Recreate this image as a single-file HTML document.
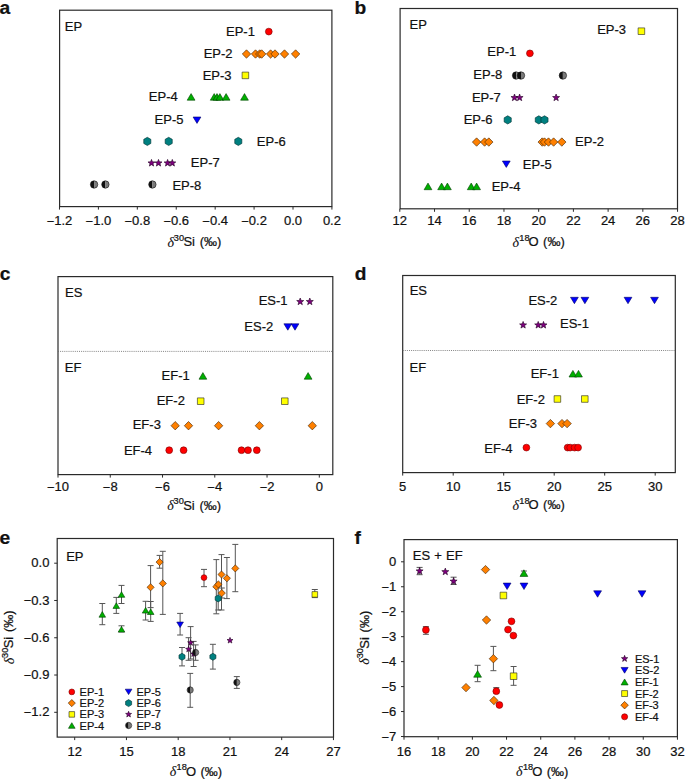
<!DOCTYPE html>
<html><head><meta charset="utf-8"><style>
html,body{margin:0;padding:0;background:#fff;}
svg{display:block;}
text{fill:#111;stroke:#111;stroke-width:0.22px;}
</style></head><body>
<svg width="685" height="779" viewBox="0 0 685 779" font-family='"Liberation Sans", sans-serif'>
<rect width="685" height="779" fill="#fff"/>
<text x="-0.5" y="14" font-size="19.2" text-anchor="start" font-weight="bold" >a</text>
<text x="354.5" y="14" font-size="19.2" text-anchor="start" font-weight="bold" >b</text>
<text x="-0.2" y="280.4" font-size="19.2" text-anchor="start" font-weight="bold" >c</text>
<text x="354.8" y="280.4" font-size="19.2" text-anchor="start" font-weight="bold" >d</text>
<text x="-0.5" y="544.3" font-size="19.2" text-anchor="start" font-weight="bold" >e</text>
<text x="354.5" y="543.7" font-size="19.2" text-anchor="start" font-weight="bold" >f</text>
<rect x="59.6" y="10.2" width="272.3" height="196.4" fill="none" stroke="#2a2a2a" stroke-width="1.2"/>
<line x1="59.48" y1="206.6" x2="59.48" y2="209.6" stroke="#2a2a2a" stroke-width="1.0" />
<text x="59.48" y="224.9" font-size="13" text-anchor="middle" font-weight="normal" ><tspan dy="0.9">−</tspan><tspan dy="-0.9">1.2</tspan></text>
<line x1="98.4" y1="206.6" x2="98.4" y2="209.6" stroke="#2a2a2a" stroke-width="1.0" />
<text x="98.4" y="224.9" font-size="13" text-anchor="middle" font-weight="normal" ><tspan dy="0.9">−</tspan><tspan dy="-0.9">1.0</tspan></text>
<line x1="137.32" y1="206.6" x2="137.32" y2="209.6" stroke="#2a2a2a" stroke-width="1.0" />
<text x="137.32" y="224.9" font-size="13" text-anchor="middle" font-weight="normal" ><tspan dy="0.9">−</tspan><tspan dy="-0.9">0.8</tspan></text>
<line x1="176.24" y1="206.6" x2="176.24" y2="209.6" stroke="#2a2a2a" stroke-width="1.0" />
<text x="176.24" y="224.9" font-size="13" text-anchor="middle" font-weight="normal" ><tspan dy="0.9">−</tspan><tspan dy="-0.9">0.6</tspan></text>
<line x1="215.16" y1="206.6" x2="215.16" y2="209.6" stroke="#2a2a2a" stroke-width="1.0" />
<text x="215.16" y="224.9" font-size="13" text-anchor="middle" font-weight="normal" ><tspan dy="0.9">−</tspan><tspan dy="-0.9">0.4</tspan></text>
<line x1="254.08" y1="206.6" x2="254.08" y2="209.6" stroke="#2a2a2a" stroke-width="1.0" />
<text x="254.08" y="224.9" font-size="13" text-anchor="middle" font-weight="normal" ><tspan dy="0.9">−</tspan><tspan dy="-0.9">0.2</tspan></text>
<line x1="293" y1="206.6" x2="293" y2="209.6" stroke="#2a2a2a" stroke-width="1.0" />
<text x="293" y="224.9" font-size="13" text-anchor="middle" font-weight="normal" >0.0</text>
<line x1="331.92" y1="206.6" x2="331.92" y2="209.6" stroke="#2a2a2a" stroke-width="1.0" />
<text x="331.92" y="224.9" font-size="13" text-anchor="middle" font-weight="normal" >0.2</text>
<g transform="translate(167.4,246.4)"><text x="0" y="0.4" font-size="14" font-family="Liberation Serif" font-style="italic" style="stroke-width:0.1px">δ</text><text x="6.4" y="-5.7" font-size="9.2">30</text><text x="16" y="0" font-size="13">Si</text><text x="32.3" y="0" font-size="13">(‰)</text></g>
<text x="64.8" y="31.4" font-size="13" text-anchor="start" font-weight="normal" >EP</text>
<text x="226" y="36" font-size="13" text-anchor="start" font-weight="normal" >EP-1</text>
<text x="203.7" y="58.3" font-size="13" text-anchor="start" font-weight="normal" >EP-2</text>
<text x="202.7" y="80.4" font-size="13" text-anchor="start" font-weight="normal" >EP-3</text>
<text x="148.8" y="101.2" font-size="13" text-anchor="start" font-weight="normal" >EP-4</text>
<text x="154.6" y="124.1" font-size="13" text-anchor="start" font-weight="normal" >EP-5</text>
<text x="256.8" y="145.9" font-size="13" text-anchor="start" font-weight="normal" >EP-6</text>
<text x="190.8" y="167.4" font-size="13" text-anchor="start" font-weight="normal" >EP-7</text>
<text x="172.4" y="189.5" font-size="13" text-anchor="start" font-weight="normal" >EP-8</text>
<circle cx="268.8" cy="31.6" r="3.4" fill="#ff0000" stroke="#7a0000" stroke-width="0.6"/>
<path d="M246.5 49.8 L250.7 54 L246.5 58.2 L242.3 54 Z" fill="#ff8000" stroke="#3a1e00" stroke-width="0.6" stroke-linejoin="miter"/>
<path d="M255.5 49.8 L259.7 54 L255.5 58.2 L251.3 54 Z" fill="#ff8000" stroke="#3a1e00" stroke-width="0.6" stroke-linejoin="miter"/>
<path d="M259.7 49.8 L263.9 54 L259.7 58.2 L255.5 54 Z" fill="#ff8000" stroke="#3a1e00" stroke-width="0.6" stroke-linejoin="miter"/>
<path d="M261.7 49.8 L265.9 54 L261.7 58.2 L257.5 54 Z" fill="#ff8000" stroke="#3a1e00" stroke-width="0.6" stroke-linejoin="miter"/>
<path d="M270.6 49.8 L274.8 54 L270.6 58.2 L266.4 54 Z" fill="#ff8000" stroke="#3a1e00" stroke-width="0.6" stroke-linejoin="miter"/>
<path d="M275 49.8 L279.2 54 L275 58.2 L270.8 54 Z" fill="#ff8000" stroke="#3a1e00" stroke-width="0.6" stroke-linejoin="miter"/>
<path d="M284.5 49.8 L288.7 54 L284.5 58.2 L280.3 54 Z" fill="#ff8000" stroke="#3a1e00" stroke-width="0.6" stroke-linejoin="miter"/>
<path d="M295.6 49.8 L299.8 54 L295.6 58.2 L291.4 54 Z" fill="#ff8000" stroke="#3a1e00" stroke-width="0.6" stroke-linejoin="miter"/>
<path d="M242.1 72.1 L248.7 72.1 L248.7 78.7 L242.1 78.7 Z" fill="#ffff00" stroke="#222" stroke-width="0.6" stroke-linejoin="miter"/>
<path d="M191.1 93.6 L195 100.2 L187.2 100.2 Z" fill="#00b000" stroke="#004000" stroke-width="0.6" stroke-linejoin="miter"/>
<path d="M214.2 93.6 L218.1 100.2 L210.3 100.2 Z" fill="#00b000" stroke="#004000" stroke-width="0.6" stroke-linejoin="miter"/>
<path d="M217 93.6 L220.9 100.2 L213.1 100.2 Z" fill="#00b000" stroke="#004000" stroke-width="0.6" stroke-linejoin="miter"/>
<path d="M219.9 93.6 L223.8 100.2 L216 100.2 Z" fill="#00b000" stroke="#004000" stroke-width="0.6" stroke-linejoin="miter"/>
<path d="M226.1 93.6 L230 100.2 L222.2 100.2 Z" fill="#00b000" stroke="#004000" stroke-width="0.6" stroke-linejoin="miter"/>
<path d="M244.5 93.6 L248.4 100.2 L240.6 100.2 Z" fill="#00b000" stroke="#004000" stroke-width="0.6" stroke-linejoin="miter"/>
<path d="M193.1 117 L200.9 117 L197 123.4 Z" fill="#0000ff" stroke="#000060" stroke-width="0.6" stroke-linejoin="miter"/>
<path d="M147.3 137.3 L143.75 139.35 L143.75 143.45 L147.3 145.5 L150.85 143.45 L150.85 139.35 Z" fill="#008080" stroke="#003030" stroke-width="0.6" stroke-linejoin="miter"/>
<path d="M168.7 137.3 L165.15 139.35 L165.15 143.45 L168.7 145.5 L172.25 143.45 L172.25 139.35 Z" fill="#008080" stroke="#003030" stroke-width="0.6" stroke-linejoin="miter"/>
<path d="M238.3 137.3 L234.75 139.35 L234.75 143.45 L238.3 145.5 L241.85 143.45 L241.85 139.35 Z" fill="#008080" stroke="#003030" stroke-width="0.6" stroke-linejoin="miter"/>
<path d="M151.5 159.4 L152.41 161.85 L155.02 161.96 L152.97 163.58 L153.67 166.09 L151.5 164.65 L149.33 166.09 L150.03 163.58 L147.98 161.96 L150.59 161.85 Z" fill="#800080" stroke="#200020" stroke-width="0.6" stroke-linejoin="miter"/>
<path d="M158.5 159.4 L159.41 161.85 L162.02 161.96 L159.97 163.58 L160.67 166.09 L158.5 164.65 L156.33 166.09 L157.03 163.58 L154.98 161.96 L157.59 161.85 Z" fill="#800080" stroke="#200020" stroke-width="0.6" stroke-linejoin="miter"/>
<path d="M167.6 159.4 L168.51 161.85 L171.12 161.96 L169.07 163.58 L169.77 166.09 L167.6 164.65 L165.43 166.09 L166.13 163.58 L164.08 161.96 L166.69 161.85 Z" fill="#800080" stroke="#200020" stroke-width="0.6" stroke-linejoin="miter"/>
<path d="M172.3 159.4 L173.21 161.85 L175.82 161.96 L173.77 163.58 L174.47 166.09 L172.3 164.65 L170.13 166.09 L170.83 163.58 L168.78 161.96 L171.39 161.85 Z" fill="#800080" stroke="#200020" stroke-width="0.6" stroke-linejoin="miter"/>
<path d="M94.1 180.8 A3.7 3.7 0 0 0 94.1 188.2 Z" fill="#111"/><path d="M94.1 180.8 A3.7 3.7 0 0 1 94.1 188.2 Z" fill="#7a7a7a"/><circle cx="94.1" cy="184.5" r="3.7" fill="none" stroke="#111" stroke-width="0.6"/>
<path d="M105.4 180.8 A3.7 3.7 0 0 0 105.4 188.2 Z" fill="#111"/><path d="M105.4 180.8 A3.7 3.7 0 0 1 105.4 188.2 Z" fill="#7a7a7a"/><circle cx="105.4" cy="184.5" r="3.7" fill="none" stroke="#111" stroke-width="0.6"/>
<path d="M152.4 180.8 A3.7 3.7 0 0 0 152.4 188.2 Z" fill="#111"/><path d="M152.4 180.8 A3.7 3.7 0 0 1 152.4 188.2 Z" fill="#7a7a7a"/><circle cx="152.4" cy="184.5" r="3.7" fill="none" stroke="#111" stroke-width="0.6"/>
<rect x="400.1" y="8.5" width="277.4" height="200.3" fill="none" stroke="#2a2a2a" stroke-width="1.2"/>
<line x1="399.8" y1="208.8" x2="399.8" y2="211.8" stroke="#2a2a2a" stroke-width="1.0" />
<text x="399.8" y="225" font-size="13" text-anchor="middle" font-weight="normal" >12</text>
<line x1="434.52" y1="208.8" x2="434.52" y2="211.8" stroke="#2a2a2a" stroke-width="1.0" />
<text x="434.52" y="225" font-size="13" text-anchor="middle" font-weight="normal" >14</text>
<line x1="469.24" y1="208.8" x2="469.24" y2="211.8" stroke="#2a2a2a" stroke-width="1.0" />
<text x="469.24" y="225" font-size="13" text-anchor="middle" font-weight="normal" >16</text>
<line x1="503.96" y1="208.8" x2="503.96" y2="211.8" stroke="#2a2a2a" stroke-width="1.0" />
<text x="503.96" y="225" font-size="13" text-anchor="middle" font-weight="normal" >18</text>
<line x1="538.68" y1="208.8" x2="538.68" y2="211.8" stroke="#2a2a2a" stroke-width="1.0" />
<text x="538.68" y="225" font-size="13" text-anchor="middle" font-weight="normal" >20</text>
<line x1="573.4" y1="208.8" x2="573.4" y2="211.8" stroke="#2a2a2a" stroke-width="1.0" />
<text x="573.4" y="225" font-size="13" text-anchor="middle" font-weight="normal" >22</text>
<line x1="608.12" y1="208.8" x2="608.12" y2="211.8" stroke="#2a2a2a" stroke-width="1.0" />
<text x="608.12" y="225" font-size="13" text-anchor="middle" font-weight="normal" >24</text>
<line x1="642.84" y1="208.8" x2="642.84" y2="211.8" stroke="#2a2a2a" stroke-width="1.0" />
<text x="642.84" y="225" font-size="13" text-anchor="middle" font-weight="normal" >26</text>
<line x1="677.56" y1="208.8" x2="677.56" y2="211.8" stroke="#2a2a2a" stroke-width="1.0" />
<text x="677.56" y="225" font-size="13" text-anchor="middle" font-weight="normal" >28</text>
<g transform="translate(512.4,246.3)"><text x="0" y="0.4" font-size="14" font-family="Liberation Serif" font-style="italic" style="stroke-width:0.1px">δ</text><text x="6.9" y="-5.7" font-size="9.2">18</text><text x="16.2" y="0" font-size="13">O</text><text x="30.7" y="0" font-size="13">(‰)</text></g>
<text x="409.5" y="29.1" font-size="13" text-anchor="start" font-weight="normal" >EP</text>
<text x="597.2" y="34.2" font-size="13" text-anchor="start" font-weight="normal" >EP-3</text>
<text x="487.3" y="56.2" font-size="13" text-anchor="start" font-weight="normal" >EP-1</text>
<text x="473.3" y="79.2" font-size="13" text-anchor="start" font-weight="normal" >EP-8</text>
<text x="471.9" y="101.5" font-size="13" text-anchor="start" font-weight="normal" >EP-7</text>
<text x="463.7" y="123.9" font-size="13" text-anchor="start" font-weight="normal" >EP-6</text>
<text x="575.1" y="146.2" font-size="13" text-anchor="start" font-weight="normal" >EP-2</text>
<text x="522.8" y="169.1" font-size="13" text-anchor="start" font-weight="normal" >EP-5</text>
<text x="491.7" y="191" font-size="13" text-anchor="start" font-weight="normal" >EP-4</text>
<path d="M638.1 27.9 L644.7 27.9 L644.7 34.5 L638.1 34.5 Z" fill="#ffff00" stroke="#222" stroke-width="0.6" stroke-linejoin="miter"/>
<circle cx="529.9" cy="53.37" r="3.4" fill="#ff0000" stroke="#7a0000" stroke-width="0.6"/>
<path d="M516.1 71.84 A3.7 3.7 0 0 0 516.1 79.24 Z" fill="#111"/><path d="M516.1 71.84 A3.7 3.7 0 0 1 516.1 79.24 Z" fill="#7a7a7a"/><circle cx="516.1" cy="75.54" r="3.7" fill="none" stroke="#111" stroke-width="0.6"/>
<path d="M521 71.84 A3.7 3.7 0 0 0 521 79.24 Z" fill="#111"/><path d="M521 71.84 A3.7 3.7 0 0 1 521 79.24 Z" fill="#7a7a7a"/><circle cx="521" cy="75.54" r="3.7" fill="none" stroke="#111" stroke-width="0.6"/>
<path d="M562.9 71.84 A3.7 3.7 0 0 0 562.9 79.24 Z" fill="#111"/><path d="M562.9 71.84 A3.7 3.7 0 0 1 562.9 79.24 Z" fill="#7a7a7a"/><circle cx="562.9" cy="75.54" r="3.7" fill="none" stroke="#111" stroke-width="0.6"/>
<path d="M514.5 94.01 L515.41 96.46 L518.02 96.57 L515.97 98.19 L516.67 100.7 L514.5 99.26 L512.33 100.7 L513.03 98.19 L510.98 96.57 L513.59 96.46 Z" fill="#800080" stroke="#200020" stroke-width="0.6" stroke-linejoin="miter"/>
<path d="M519.6 94.01 L520.51 96.46 L523.12 96.57 L521.07 98.19 L521.77 100.7 L519.6 99.26 L517.43 100.7 L518.13 98.19 L516.08 96.57 L518.69 96.46 Z" fill="#800080" stroke="#200020" stroke-width="0.6" stroke-linejoin="miter"/>
<path d="M556.1 94.01 L557.01 96.46 L559.62 96.57 L557.57 98.19 L558.27 100.7 L556.1 99.26 L553.93 100.7 L554.63 98.19 L552.58 96.57 L555.19 96.46 Z" fill="#800080" stroke="#200020" stroke-width="0.6" stroke-linejoin="miter"/>
<path d="M507.7 115.78 L504.15 117.83 L504.15 121.93 L507.7 123.98 L511.25 121.93 L511.25 117.83 Z" fill="#008080" stroke="#003030" stroke-width="0.6" stroke-linejoin="miter"/>
<path d="M538.8 115.78 L535.25 117.83 L535.25 121.93 L538.8 123.98 L542.35 121.93 L542.35 117.83 Z" fill="#008080" stroke="#003030" stroke-width="0.6" stroke-linejoin="miter"/>
<path d="M544.5 115.78 L540.95 117.83 L540.95 121.93 L544.5 123.98 L548.05 121.93 L548.05 117.83 Z" fill="#008080" stroke="#003030" stroke-width="0.6" stroke-linejoin="miter"/>
<path d="M476.6 137.85 L480.8 142.05 L476.6 146.25 L472.4 142.05 Z" fill="#ff8000" stroke="#3a1e00" stroke-width="0.6" stroke-linejoin="miter"/>
<path d="M484.6 137.85 L488.8 142.05 L484.6 146.25 L480.4 142.05 Z" fill="#ff8000" stroke="#3a1e00" stroke-width="0.6" stroke-linejoin="miter"/>
<path d="M488.8 137.85 L493 142.05 L488.8 146.25 L484.6 142.05 Z" fill="#ff8000" stroke="#3a1e00" stroke-width="0.6" stroke-linejoin="miter"/>
<path d="M542.2 137.85 L546.4 142.05 L542.2 146.25 L538 142.05 Z" fill="#ff8000" stroke="#3a1e00" stroke-width="0.6" stroke-linejoin="miter"/>
<path d="M544.5 137.85 L548.7 142.05 L544.5 146.25 L540.3 142.05 Z" fill="#ff8000" stroke="#3a1e00" stroke-width="0.6" stroke-linejoin="miter"/>
<path d="M548.5 137.85 L552.7 142.05 L548.5 146.25 L544.3 142.05 Z" fill="#ff8000" stroke="#3a1e00" stroke-width="0.6" stroke-linejoin="miter"/>
<path d="M553.6 137.85 L557.8 142.05 L553.6 146.25 L549.4 142.05 Z" fill="#ff8000" stroke="#3a1e00" stroke-width="0.6" stroke-linejoin="miter"/>
<path d="M561.8 137.85 L566 142.05 L561.8 146.25 L557.6 142.05 Z" fill="#ff8000" stroke="#3a1e00" stroke-width="0.6" stroke-linejoin="miter"/>
<path d="M502.4 161.02 L510.2 161.02 L506.3 167.42 Z" fill="#0000ff" stroke="#000060" stroke-width="0.6" stroke-linejoin="miter"/>
<path d="M428 183.09 L431.9 189.69 L424.1 189.69 Z" fill="#00b000" stroke="#004000" stroke-width="0.6" stroke-linejoin="miter"/>
<path d="M441.6 183.09 L445.5 189.69 L437.7 189.69 Z" fill="#00b000" stroke="#004000" stroke-width="0.6" stroke-linejoin="miter"/>
<path d="M447.4 183.09 L451.3 189.69 L443.5 189.69 Z" fill="#00b000" stroke="#004000" stroke-width="0.6" stroke-linejoin="miter"/>
<path d="M471.2 183.09 L475.1 189.69 L467.3 189.69 Z" fill="#00b000" stroke="#004000" stroke-width="0.6" stroke-linejoin="miter"/>
<path d="M476.6 183.09 L480.5 189.69 L472.7 189.69 Z" fill="#00b000" stroke="#004000" stroke-width="0.6" stroke-linejoin="miter"/>
<rect x="58" y="276.6" width="274.8" height="198" fill="none" stroke="#2a2a2a" stroke-width="1.2"/>
<line x1="58" y1="351.4" x2="332.8" y2="351.4" stroke="#666" stroke-width="0.8" stroke-dasharray="1 1.1"/>
<line x1="58" y1="474.6" x2="58" y2="477.6" stroke="#2a2a2a" stroke-width="1.0" />
<text x="58" y="490.9" font-size="13" text-anchor="middle" font-weight="normal" ><tspan dy="0.9">−</tspan><tspan dy="-0.9">10</tspan></text>
<line x1="110.26" y1="474.6" x2="110.26" y2="477.6" stroke="#2a2a2a" stroke-width="1.0" />
<text x="110.26" y="490.9" font-size="13" text-anchor="middle" font-weight="normal" ><tspan dy="0.9">−</tspan><tspan dy="-0.9">8</tspan></text>
<line x1="162.52" y1="474.6" x2="162.52" y2="477.6" stroke="#2a2a2a" stroke-width="1.0" />
<text x="162.52" y="490.9" font-size="13" text-anchor="middle" font-weight="normal" ><tspan dy="0.9">−</tspan><tspan dy="-0.9">6</tspan></text>
<line x1="214.78" y1="474.6" x2="214.78" y2="477.6" stroke="#2a2a2a" stroke-width="1.0" />
<text x="214.78" y="490.9" font-size="13" text-anchor="middle" font-weight="normal" ><tspan dy="0.9">−</tspan><tspan dy="-0.9">4</tspan></text>
<line x1="267.04" y1="474.6" x2="267.04" y2="477.6" stroke="#2a2a2a" stroke-width="1.0" />
<text x="267.04" y="490.9" font-size="13" text-anchor="middle" font-weight="normal" ><tspan dy="0.9">−</tspan><tspan dy="-0.9">2</tspan></text>
<line x1="319.3" y1="474.6" x2="319.3" y2="477.6" stroke="#2a2a2a" stroke-width="1.0" />
<text x="319.3" y="490.9" font-size="13" text-anchor="middle" font-weight="normal" >0</text>
<g transform="translate(167.2,509.8)"><text x="0" y="0.4" font-size="14" font-family="Liberation Serif" font-style="italic" style="stroke-width:0.1px">δ</text><text x="6.4" y="-5.7" font-size="9.2">30</text><text x="16" y="0" font-size="13">Si</text><text x="32.3" y="0" font-size="13">(‰)</text></g>
<text x="65" y="297.2" font-size="13" text-anchor="start" font-weight="normal" >ES</text>
<text x="64.8" y="372.3" font-size="13" text-anchor="start" font-weight="normal" >EF</text>
<text x="258.7" y="305.2" font-size="13" text-anchor="start" font-weight="normal" >ES-1</text>
<text x="244.3" y="330.6" font-size="13" text-anchor="start" font-weight="normal" >ES-2</text>
<text x="161.6" y="379.8" font-size="13" text-anchor="start" font-weight="normal" >EF-1</text>
<text x="156.7" y="405.3" font-size="13" text-anchor="start" font-weight="normal" >EF-2</text>
<text x="132.7" y="429.1" font-size="13" text-anchor="start" font-weight="normal" >EF-3</text>
<text x="123.9" y="455" font-size="13" text-anchor="start" font-weight="normal" >EF-4</text>
<path d="M300.2 298 L301.11 300.45 L303.72 300.56 L301.67 302.18 L302.37 304.69 L300.2 303.25 L298.03 304.69 L298.73 302.18 L296.68 300.56 L299.29 300.45 Z" fill="#800080" stroke="#200020" stroke-width="0.6" stroke-linejoin="miter"/>
<path d="M309.8 298 L310.71 300.45 L313.32 300.56 L311.27 302.18 L311.97 304.69 L309.8 303.25 L307.63 304.69 L308.33 302.18 L306.28 300.56 L308.89 300.45 Z" fill="#800080" stroke="#200020" stroke-width="0.6" stroke-linejoin="miter"/>
<path d="M283.9 323.8 L291.7 323.8 L287.8 330.2 Z" fill="#0000ff" stroke="#000060" stroke-width="0.6" stroke-linejoin="miter"/>
<path d="M291.1 323.8 L298.9 323.8 L295 330.2 Z" fill="#0000ff" stroke="#000060" stroke-width="0.6" stroke-linejoin="miter"/>
<path d="M202.9 372.6 L206.8 379.2 L199 379.2 Z" fill="#00b000" stroke="#004000" stroke-width="0.6" stroke-linejoin="miter"/>
<path d="M308.1 372.6 L312 379.2 L304.2 379.2 Z" fill="#00b000" stroke="#004000" stroke-width="0.6" stroke-linejoin="miter"/>
<path d="M197.4 397.9 L204 397.9 L204 404.5 L197.4 404.5 Z" fill="#ffff00" stroke="#222" stroke-width="0.6" stroke-linejoin="miter"/>
<path d="M281.5 397.9 L288.1 397.9 L288.1 404.5 L281.5 404.5 Z" fill="#ffff00" stroke="#222" stroke-width="0.6" stroke-linejoin="miter"/>
<path d="M175.2 421.5 L179.4 425.7 L175.2 429.9 L171 425.7 Z" fill="#ff8000" stroke="#3a1e00" stroke-width="0.6" stroke-linejoin="miter"/>
<path d="M188.5 421.5 L192.7 425.7 L188.5 429.9 L184.3 425.7 Z" fill="#ff8000" stroke="#3a1e00" stroke-width="0.6" stroke-linejoin="miter"/>
<path d="M218.6 421.5 L222.8 425.7 L218.6 429.9 L214.4 425.7 Z" fill="#ff8000" stroke="#3a1e00" stroke-width="0.6" stroke-linejoin="miter"/>
<path d="M259.4 421.5 L263.6 425.7 L259.4 429.9 L255.2 425.7 Z" fill="#ff8000" stroke="#3a1e00" stroke-width="0.6" stroke-linejoin="miter"/>
<path d="M312.3 421.5 L316.5 425.7 L312.3 429.9 L308.1 425.7 Z" fill="#ff8000" stroke="#3a1e00" stroke-width="0.6" stroke-linejoin="miter"/>
<circle cx="169.2" cy="450.2" r="3.4" fill="#ff0000" stroke="#7a0000" stroke-width="0.6"/>
<circle cx="183.6" cy="450.2" r="3.4" fill="#ff0000" stroke="#7a0000" stroke-width="0.6"/>
<circle cx="241.5" cy="450.2" r="3.4" fill="#ff0000" stroke="#7a0000" stroke-width="0.6"/>
<circle cx="248" cy="450.2" r="3.4" fill="#ff0000" stroke="#7a0000" stroke-width="0.6"/>
<circle cx="256.8" cy="450.2" r="3.4" fill="#ff0000" stroke="#7a0000" stroke-width="0.6"/>
<rect x="402.7" y="275.5" width="272.6" height="197.1" fill="none" stroke="#2a2a2a" stroke-width="1.2"/>
<line x1="402.7" y1="350.5" x2="675.3" y2="350.5" stroke="#666" stroke-width="0.8" stroke-dasharray="1 1.1"/>
<line x1="402.7" y1="472.6" x2="402.7" y2="475.6" stroke="#2a2a2a" stroke-width="1.0" />
<text x="402.7" y="490.8" font-size="13" text-anchor="middle" font-weight="normal" >5</text>
<line x1="453.2" y1="472.6" x2="453.2" y2="475.6" stroke="#2a2a2a" stroke-width="1.0" />
<text x="453.2" y="490.8" font-size="13" text-anchor="middle" font-weight="normal" >10</text>
<line x1="503.7" y1="472.6" x2="503.7" y2="475.6" stroke="#2a2a2a" stroke-width="1.0" />
<text x="503.7" y="490.8" font-size="13" text-anchor="middle" font-weight="normal" >15</text>
<line x1="554.2" y1="472.6" x2="554.2" y2="475.6" stroke="#2a2a2a" stroke-width="1.0" />
<text x="554.2" y="490.8" font-size="13" text-anchor="middle" font-weight="normal" >20</text>
<line x1="604.7" y1="472.6" x2="604.7" y2="475.6" stroke="#2a2a2a" stroke-width="1.0" />
<text x="604.7" y="490.8" font-size="13" text-anchor="middle" font-weight="normal" >25</text>
<line x1="655.2" y1="472.6" x2="655.2" y2="475.6" stroke="#2a2a2a" stroke-width="1.0" />
<text x="655.2" y="490.8" font-size="13" text-anchor="middle" font-weight="normal" >30</text>
<g transform="translate(512.4,509.4)"><text x="0" y="0.4" font-size="14" font-family="Liberation Serif" font-style="italic" style="stroke-width:0.1px">δ</text><text x="6.9" y="-5.7" font-size="9.2">18</text><text x="16.2" y="0" font-size="13">O</text><text x="30.7" y="0" font-size="13">(‰)</text></g>
<text x="409.7" y="294.5" font-size="13" text-anchor="start" font-weight="normal" >ES</text>
<text x="409.5" y="371.8" font-size="13" text-anchor="start" font-weight="normal" >EF</text>
<text x="528.4" y="304.6" font-size="13" text-anchor="start" font-weight="normal" >ES-2</text>
<text x="560" y="328.2" font-size="13" text-anchor="start" font-weight="normal" >ES-1</text>
<text x="530.7" y="378" font-size="13" text-anchor="start" font-weight="normal" >EF-1</text>
<text x="516.7" y="403.6" font-size="13" text-anchor="start" font-weight="normal" >EF-2</text>
<text x="508.8" y="428.4" font-size="13" text-anchor="start" font-weight="normal" >EF-3</text>
<text x="484.3" y="453.3" font-size="13" text-anchor="start" font-weight="normal" >EF-4</text>
<path d="M570.5 297.3 L578.3 297.3 L574.4 303.7 Z" fill="#0000ff" stroke="#000060" stroke-width="0.6" stroke-linejoin="miter"/>
<path d="M581 297.3 L588.8 297.3 L584.9 303.7 Z" fill="#0000ff" stroke="#000060" stroke-width="0.6" stroke-linejoin="miter"/>
<path d="M624.1 297.3 L631.9 297.3 L628 303.7 Z" fill="#0000ff" stroke="#000060" stroke-width="0.6" stroke-linejoin="miter"/>
<path d="M650.6 297.3 L658.4 297.3 L654.5 303.7 Z" fill="#0000ff" stroke="#000060" stroke-width="0.6" stroke-linejoin="miter"/>
<path d="M523.1 321.4 L524.01 323.85 L526.62 323.96 L524.57 325.58 L525.27 328.09 L523.1 326.65 L520.93 328.09 L521.63 325.58 L519.58 323.96 L522.19 323.85 Z" fill="#800080" stroke="#200020" stroke-width="0.6" stroke-linejoin="miter"/>
<path d="M538.2 321.4 L539.11 323.85 L541.72 323.96 L539.67 325.58 L540.37 328.09 L538.2 326.65 L536.03 328.09 L536.73 325.58 L534.68 323.96 L537.29 323.85 Z" fill="#800080" stroke="#200020" stroke-width="0.6" stroke-linejoin="miter"/>
<path d="M543.5 321.4 L544.41 323.85 L547.02 323.96 L544.97 325.58 L545.67 328.09 L543.5 326.65 L541.33 328.09 L542.03 325.58 L539.98 323.96 L542.59 323.85 Z" fill="#800080" stroke="#200020" stroke-width="0.6" stroke-linejoin="miter"/>
<path d="M572.9 370.4 L576.8 377 L569 377 Z" fill="#00b000" stroke="#004000" stroke-width="0.6" stroke-linejoin="miter"/>
<path d="M578.5 370.4 L582.4 377 L574.6 377 Z" fill="#00b000" stroke="#004000" stroke-width="0.6" stroke-linejoin="miter"/>
<path d="M554.1 395.7 L560.7 395.7 L560.7 402.3 L554.1 402.3 Z" fill="#ffff00" stroke="#222" stroke-width="0.6" stroke-linejoin="miter"/>
<path d="M581.5 395.7 L588.1 395.7 L588.1 402.3 L581.5 402.3 Z" fill="#ffff00" stroke="#222" stroke-width="0.6" stroke-linejoin="miter"/>
<path d="M550.4 419.4 L554.6 423.6 L550.4 427.8 L546.2 423.6 Z" fill="#ff8000" stroke="#3a1e00" stroke-width="0.6" stroke-linejoin="miter"/>
<path d="M562 419.4 L566.2 423.6 L562 427.8 L557.8 423.6 Z" fill="#ff8000" stroke="#3a1e00" stroke-width="0.6" stroke-linejoin="miter"/>
<path d="M567.1 419.4 L571.3 423.6 L567.1 427.8 L562.9 423.6 Z" fill="#ff8000" stroke="#3a1e00" stroke-width="0.6" stroke-linejoin="miter"/>
<circle cx="526.4" cy="447.6" r="3.4" fill="#ff0000" stroke="#7a0000" stroke-width="0.6"/>
<circle cx="567.6" cy="447.6" r="3.4" fill="#ff0000" stroke="#7a0000" stroke-width="0.6"/>
<circle cx="570.2" cy="447.6" r="3.4" fill="#ff0000" stroke="#7a0000" stroke-width="0.6"/>
<circle cx="574.6" cy="447.6" r="3.4" fill="#ff0000" stroke="#7a0000" stroke-width="0.6"/>
<circle cx="578.1" cy="447.6" r="3.4" fill="#ff0000" stroke="#7a0000" stroke-width="0.6"/>
<rect x="57.2" y="538.5" width="276.3" height="198.6" fill="none" stroke="#2a2a2a" stroke-width="1.2"/>
<line x1="74.7" y1="737.1" x2="74.7" y2="740.1" stroke="#2a2a2a" stroke-width="1.0" />
<text x="74.7" y="756.3" font-size="13" text-anchor="middle" font-weight="normal" >12</text>
<line x1="126.45" y1="737.1" x2="126.45" y2="740.1" stroke="#2a2a2a" stroke-width="1.0" />
<text x="126.45" y="756.3" font-size="13" text-anchor="middle" font-weight="normal" >15</text>
<line x1="178.2" y1="737.1" x2="178.2" y2="740.1" stroke="#2a2a2a" stroke-width="1.0" />
<text x="178.2" y="756.3" font-size="13" text-anchor="middle" font-weight="normal" >18</text>
<line x1="229.95" y1="737.1" x2="229.95" y2="740.1" stroke="#2a2a2a" stroke-width="1.0" />
<text x="229.95" y="756.3" font-size="13" text-anchor="middle" font-weight="normal" >21</text>
<line x1="281.7" y1="737.1" x2="281.7" y2="740.1" stroke="#2a2a2a" stroke-width="1.0" />
<text x="281.7" y="756.3" font-size="13" text-anchor="middle" font-weight="normal" >24</text>
<line x1="333.45" y1="737.1" x2="333.45" y2="740.1" stroke="#2a2a2a" stroke-width="1.0" />
<text x="333.45" y="756.3" font-size="13" text-anchor="middle" font-weight="normal" >27</text>
<line x1="54.2" y1="563.2" x2="57.2" y2="563.2" stroke="#2a2a2a" stroke-width="1.0" />
<text x="49.4" y="567.3" font-size="13" text-anchor="end" font-weight="normal" >0.0</text>
<line x1="54.2" y1="600.48" x2="57.2" y2="600.48" stroke="#2a2a2a" stroke-width="1.0" />
<text x="49.4" y="604.58" font-size="13" text-anchor="end" font-weight="normal" ><tspan dy="0.9">−</tspan><tspan dy="-0.9">0.3</tspan></text>
<line x1="54.2" y1="637.75" x2="57.2" y2="637.75" stroke="#2a2a2a" stroke-width="1.0" />
<text x="49.4" y="641.85" font-size="13" text-anchor="end" font-weight="normal" ><tspan dy="0.9">−</tspan><tspan dy="-0.9">0.6</tspan></text>
<line x1="54.2" y1="675.03" x2="57.2" y2="675.03" stroke="#2a2a2a" stroke-width="1.0" />
<text x="49.4" y="679.13" font-size="13" text-anchor="end" font-weight="normal" ><tspan dy="0.9">−</tspan><tspan dy="-0.9">0.9</tspan></text>
<line x1="54.2" y1="712.3" x2="57.2" y2="712.3" stroke="#2a2a2a" stroke-width="1.0" />
<text x="49.4" y="716.4" font-size="13" text-anchor="end" font-weight="normal" ><tspan dy="0.9">−</tspan><tspan dy="-0.9">1.2</tspan></text>
<g transform="translate(169.7,775.8)"><text x="0" y="0.4" font-size="14" font-family="Liberation Serif" font-style="italic" style="stroke-width:0.1px">δ</text><text x="6.9" y="-5.7" font-size="9.2">18</text><text x="16.2" y="0" font-size="13">O</text><text x="30.7" y="0" font-size="13">(‰)</text></g>
<g transform="translate(13.3,664.3) rotate(-90)"><text x="0" y="0.4" font-size="14" font-family="Liberation Serif" font-style="italic" style="stroke-width:0.1px">δ</text><text x="6.4" y="-5.7" font-size="9.2">30</text><text x="16" y="0" font-size="13">Si</text><text x="32.3" y="0" font-size="13">(‰)</text></g>
<text x="66.2" y="561" font-size="13" text-anchor="start" font-weight="normal" >EP</text>
<line x1="102.3" y1="603.5" x2="102.3" y2="624.7" stroke="#555" stroke-width="1.0" /><line x1="99.3" y1="603.5" x2="105.3" y2="603.5" stroke="#555" stroke-width="1.0" /><line x1="99.3" y1="624.7" x2="105.3" y2="624.7" stroke="#555" stroke-width="1.0" />
<line x1="116.3" y1="597.4" x2="116.3" y2="613.4" stroke="#555" stroke-width="1.0" /><line x1="113.3" y1="597.4" x2="119.3" y2="597.4" stroke="#555" stroke-width="1.0" /><line x1="113.3" y1="613.4" x2="119.3" y2="613.4" stroke="#555" stroke-width="1.0" />
<line x1="121.5" y1="585.4" x2="121.5" y2="603.5" stroke="#555" stroke-width="1.0" /><line x1="118.5" y1="585.4" x2="124.5" y2="585.4" stroke="#555" stroke-width="1.0" /><line x1="118.5" y1="603.5" x2="124.5" y2="603.5" stroke="#555" stroke-width="1.0" />
<line x1="121.5" y1="625.8" x2="121.5" y2="631.9" stroke="#555" stroke-width="1.0" /><line x1="118.5" y1="625.8" x2="124.5" y2="625.8" stroke="#555" stroke-width="1.0" /><line x1="118.5" y1="631.9" x2="124.5" y2="631.9" stroke="#555" stroke-width="1.0" />
<line x1="145.6" y1="601.3" x2="145.6" y2="620" stroke="#555" stroke-width="1.0" /><line x1="142.6" y1="601.3" x2="148.6" y2="601.3" stroke="#555" stroke-width="1.0" /><line x1="142.6" y1="620" x2="148.6" y2="620" stroke="#555" stroke-width="1.0" />
<line x1="150.7" y1="601.5" x2="150.7" y2="621.4" stroke="#555" stroke-width="1.0" /><line x1="147.7" y1="601.5" x2="153.7" y2="601.5" stroke="#555" stroke-width="1.0" /><line x1="147.7" y1="621.4" x2="153.7" y2="621.4" stroke="#555" stroke-width="1.0" />
<line x1="150.6" y1="565.6" x2="150.6" y2="607.6" stroke="#555" stroke-width="1.0" /><line x1="147.6" y1="565.6" x2="153.6" y2="565.6" stroke="#555" stroke-width="1.0" /><line x1="147.6" y1="607.6" x2="153.6" y2="607.6" stroke="#555" stroke-width="1.0" />
<line x1="159.6" y1="555.4" x2="159.6" y2="568.2" stroke="#555" stroke-width="1.0" /><line x1="156.6" y1="555.4" x2="162.6" y2="555.4" stroke="#555" stroke-width="1.0" /><line x1="156.6" y1="568.2" x2="162.6" y2="568.2" stroke="#555" stroke-width="1.0" />
<line x1="162.8" y1="551.3" x2="162.8" y2="614.4" stroke="#555" stroke-width="1.0" /><line x1="159.8" y1="551.3" x2="165.8" y2="551.3" stroke="#555" stroke-width="1.0" /><line x1="159.8" y1="614.4" x2="165.8" y2="614.4" stroke="#555" stroke-width="1.0" />
<line x1="218.2" y1="586" x2="218.2" y2="610" stroke="#555" stroke-width="1.0" /><line x1="215.2" y1="586" x2="221.2" y2="586" stroke="#555" stroke-width="1.0" /><line x1="215.2" y1="610" x2="221.2" y2="610" stroke="#555" stroke-width="1.0" />
<line x1="216.3" y1="559.6" x2="216.3" y2="613.8" stroke="#555" stroke-width="1.0" /><line x1="213.3" y1="559.6" x2="219.3" y2="559.6" stroke="#555" stroke-width="1.0" /><line x1="213.3" y1="613.8" x2="219.3" y2="613.8" stroke="#555" stroke-width="1.0" />
<line x1="221.8" y1="588" x2="221.8" y2="598" stroke="#555" stroke-width="1.0" /><line x1="218.8" y1="588" x2="224.8" y2="588" stroke="#555" stroke-width="1.0" /><line x1="218.8" y1="598" x2="224.8" y2="598" stroke="#555" stroke-width="1.0" />
<line x1="221.5" y1="554.6" x2="221.5" y2="610" stroke="#555" stroke-width="1.0" /><line x1="218.5" y1="554.6" x2="224.5" y2="554.6" stroke="#555" stroke-width="1.0" /><line x1="218.5" y1="610" x2="224.5" y2="610" stroke="#555" stroke-width="1.0" />
<line x1="226.9" y1="557.5" x2="226.9" y2="598.6" stroke="#555" stroke-width="1.0" /><line x1="223.9" y1="557.5" x2="229.9" y2="557.5" stroke="#555" stroke-width="1.0" /><line x1="223.9" y1="598.6" x2="229.9" y2="598.6" stroke="#555" stroke-width="1.0" />
<line x1="235.3" y1="544.4" x2="235.3" y2="591.7" stroke="#555" stroke-width="1.0" /><line x1="232.3" y1="544.4" x2="238.3" y2="544.4" stroke="#555" stroke-width="1.0" /><line x1="232.3" y1="591.7" x2="238.3" y2="591.7" stroke="#555" stroke-width="1.0" />
<line x1="204" y1="569.4" x2="204" y2="586.7" stroke="#555" stroke-width="1.0" /><line x1="201" y1="569.4" x2="207" y2="569.4" stroke="#555" stroke-width="1.0" /><line x1="201" y1="586.7" x2="207" y2="586.7" stroke="#555" stroke-width="1.0" />
<line x1="180.1" y1="613.4" x2="180.1" y2="635" stroke="#555" stroke-width="1.0" /><line x1="177.1" y1="613.4" x2="183.1" y2="613.4" stroke="#555" stroke-width="1.0" /><line x1="177.1" y1="635" x2="183.1" y2="635" stroke="#555" stroke-width="1.0" />
<line x1="182" y1="647.5" x2="182" y2="665.9" stroke="#555" stroke-width="1.0" /><line x1="179" y1="647.5" x2="185" y2="647.5" stroke="#555" stroke-width="1.0" /><line x1="179" y1="665.9" x2="185" y2="665.9" stroke="#555" stroke-width="1.0" />
<line x1="212.9" y1="644.3" x2="212.9" y2="669.1" stroke="#555" stroke-width="1.0" /><line x1="209.9" y1="644.3" x2="215.9" y2="644.3" stroke="#555" stroke-width="1.0" /><line x1="209.9" y1="669.1" x2="215.9" y2="669.1" stroke="#555" stroke-width="1.0" />
<line x1="190.6" y1="626.6" x2="190.6" y2="659" stroke="#555" stroke-width="1.0" /><line x1="187.6" y1="626.6" x2="193.6" y2="626.6" stroke="#555" stroke-width="1.0" /><line x1="187.6" y1="659" x2="193.6" y2="659" stroke="#555" stroke-width="1.0" />
<line x1="188.6" y1="637.7" x2="188.6" y2="660.3" stroke="#555" stroke-width="1.0" /><line x1="185.6" y1="637.7" x2="191.6" y2="637.7" stroke="#555" stroke-width="1.0" /><line x1="185.6" y1="660.3" x2="191.6" y2="660.3" stroke="#555" stroke-width="1.0" />
<line x1="193.6" y1="641.4" x2="193.6" y2="666.5" stroke="#555" stroke-width="1.0" /><line x1="190.6" y1="641.4" x2="196.6" y2="641.4" stroke="#555" stroke-width="1.0" /><line x1="190.6" y1="666.5" x2="196.6" y2="666.5" stroke="#555" stroke-width="1.0" />
<line x1="195.6" y1="644.9" x2="195.6" y2="660.3" stroke="#555" stroke-width="1.0" /><line x1="192.6" y1="644.9" x2="198.6" y2="644.9" stroke="#555" stroke-width="1.0" /><line x1="192.6" y1="660.3" x2="198.6" y2="660.3" stroke="#555" stroke-width="1.0" />
<line x1="190.2" y1="673.4" x2="190.2" y2="707.3" stroke="#555" stroke-width="1.0" /><line x1="187.2" y1="673.4" x2="193.2" y2="673.4" stroke="#555" stroke-width="1.0" /><line x1="187.2" y1="707.3" x2="193.2" y2="707.3" stroke="#555" stroke-width="1.0" />
<line x1="236.8" y1="676.6" x2="236.8" y2="688.4" stroke="#555" stroke-width="1.0" /><line x1="233.8" y1="676.6" x2="239.8" y2="676.6" stroke="#555" stroke-width="1.0" /><line x1="233.8" y1="688.4" x2="239.8" y2="688.4" stroke="#555" stroke-width="1.0" />
<line x1="314.8" y1="589.5" x2="314.8" y2="597.6" stroke="#555" stroke-width="1.0" /><line x1="311.8" y1="589.5" x2="317.8" y2="589.5" stroke="#555" stroke-width="1.0" /><line x1="311.8" y1="597.6" x2="317.8" y2="597.6" stroke="#555" stroke-width="1.0" />
<path d="M102.3 611.6 L105.61 617.2 L98.98 617.2 Z" fill="#00b000" stroke="#004000" stroke-width="0.6" stroke-linejoin="miter"/>
<path d="M116.3 602.8 L119.61 608.4 L112.98 608.4 Z" fill="#00b000" stroke="#004000" stroke-width="0.6" stroke-linejoin="miter"/>
<path d="M121.5 591.7 L124.81 597.3 L118.19 597.3 Z" fill="#00b000" stroke="#004000" stroke-width="0.6" stroke-linejoin="miter"/>
<path d="M121.5 626.5 L124.81 632.1 L118.19 632.1 Z" fill="#00b000" stroke="#004000" stroke-width="0.6" stroke-linejoin="miter"/>
<path d="M145.6 607.5 L148.91 613.1 L142.28 613.1 Z" fill="#00b000" stroke="#004000" stroke-width="0.6" stroke-linejoin="miter"/>
<path d="M150.7 608.9 L154.01 614.5 L147.38 614.5 Z" fill="#00b000" stroke="#004000" stroke-width="0.6" stroke-linejoin="miter"/>
<path d="M150.6 583.73 L154.17 587.3 L150.6 590.87 L147.03 587.3 Z" fill="#ff8000" stroke="#3a1e00" stroke-width="0.6" stroke-linejoin="miter"/>
<path d="M159.6 558.53 L163.17 562.1 L159.6 565.67 L156.03 562.1 Z" fill="#ff8000" stroke="#3a1e00" stroke-width="0.6" stroke-linejoin="miter"/>
<path d="M162.8 579.83 L166.37 583.4 L162.8 586.97 L159.23 583.4 Z" fill="#ff8000" stroke="#3a1e00" stroke-width="0.6" stroke-linejoin="miter"/>
<path d="M218.2 594.91 L215.18 596.66 L215.18 600.14 L218.2 601.88 L221.22 600.14 L221.22 596.66 Z" fill="#008080" stroke="#003030" stroke-width="0.6" stroke-linejoin="miter"/>
<path d="M216.3 583.13 L219.87 586.7 L216.3 590.27 L212.73 586.7 Z" fill="#ff8000" stroke="#3a1e00" stroke-width="0.6" stroke-linejoin="miter"/>
<path d="M218.4 580.83 L221.97 584.4 L218.4 587.97 L214.83 584.4 Z" fill="#ff8000" stroke="#3a1e00" stroke-width="0.6" stroke-linejoin="miter"/>
<path d="M221.8 589.53 L225.37 593.1 L221.8 596.67 L218.23 593.1 Z" fill="#ff8000" stroke="#3a1e00" stroke-width="0.6" stroke-linejoin="miter"/>
<path d="M221.5 570.93 L225.07 574.5 L221.5 578.07 L217.93 574.5 Z" fill="#ff8000" stroke="#3a1e00" stroke-width="0.6" stroke-linejoin="miter"/>
<path d="M226.9 574.73 L230.47 578.3 L226.9 581.87 L223.33 578.3 Z" fill="#ff8000" stroke="#3a1e00" stroke-width="0.6" stroke-linejoin="miter"/>
<path d="M235.3 564.83 L238.87 568.4 L235.3 571.97 L231.73 568.4 Z" fill="#ff8000" stroke="#3a1e00" stroke-width="0.6" stroke-linejoin="miter"/>
<circle cx="204" cy="577.6" r="2.89" fill="#ff0000" stroke="#7a0000" stroke-width="0.6"/>
<path d="M176.78 622.08 L183.41 622.08 L180.1 627.52 Z" fill="#0000ff" stroke="#000060" stroke-width="0.6" stroke-linejoin="miter"/>
<path d="M182 653.31 L178.98 655.06 L178.98 658.54 L182 660.28 L185.02 658.54 L185.02 655.06 Z" fill="#008080" stroke="#003030" stroke-width="0.6" stroke-linejoin="miter"/>
<path d="M212.9 653.31 L209.88 655.06 L209.88 658.54 L212.9 660.28 L215.92 658.54 L215.92 655.06 Z" fill="#008080" stroke="#003030" stroke-width="0.6" stroke-linejoin="miter"/>
<path d="M190.6 639.65 L191.37 641.73 L193.59 641.83 L191.85 643.21 L192.45 645.34 L190.6 644.12 L188.75 645.34 L189.35 643.21 L187.61 641.83 L189.83 641.73 Z" fill="#800080" stroke="#200020" stroke-width="0.6" stroke-linejoin="miter"/>
<path d="M188.6 646.15 L189.37 648.23 L191.59 648.33 L189.85 649.71 L190.45 651.84 L188.6 650.62 L186.75 651.84 L187.35 649.71 L185.61 648.33 L187.83 648.23 Z" fill="#800080" stroke="#200020" stroke-width="0.6" stroke-linejoin="miter"/>
<path d="M193.6 650.86 L194.37 652.93 L196.59 653.03 L194.85 654.41 L195.45 656.54 L193.6 655.32 L191.75 656.54 L192.35 654.41 L190.61 653.03 L192.83 652.93 Z" fill="#800080" stroke="#200020" stroke-width="0.6" stroke-linejoin="miter"/>
<path d="M195.6 649.36 A3.15 3.15 0 0 0 195.6 655.64 Z" fill="#111"/><path d="M195.6 649.36 A3.15 3.15 0 0 1 195.6 655.64 Z" fill="#7a7a7a"/><circle cx="195.6" cy="652.5" r="3.15" fill="none" stroke="#111" stroke-width="0.6"/>
<path d="M230 637.36 L230.77 639.43 L232.99 639.53 L231.25 640.91 L231.85 643.04 L230 641.82 L228.15 643.04 L228.75 640.91 L227.01 639.53 L229.23 639.43 Z" fill="#800080" stroke="#200020" stroke-width="0.6" stroke-linejoin="miter"/>
<path d="M190.2 686.86 A3.15 3.15 0 0 0 190.2 693.14 Z" fill="#111"/><path d="M190.2 686.86 A3.15 3.15 0 0 1 190.2 693.14 Z" fill="#7a7a7a"/><circle cx="190.2" cy="690" r="3.15" fill="none" stroke="#111" stroke-width="0.6"/>
<path d="M236.8 679.25 A3.15 3.15 0 0 0 236.8 685.54 Z" fill="#111"/><path d="M236.8 679.25 A3.15 3.15 0 0 1 236.8 685.54 Z" fill="#7a7a7a"/><circle cx="236.8" cy="682.4" r="3.15" fill="none" stroke="#111" stroke-width="0.6"/>
<path d="M312 591.6 L317.61 591.6 L317.61 597.2 L312 597.2 Z" fill="#ffff00" stroke="#222" stroke-width="0.6" stroke-linejoin="miter"/>
<circle cx="71.8" cy="691.9" r="2.89" fill="#ff0000" stroke="#7a0000" stroke-width="0.6"/>
<text x="79.6" y="695.9" font-size="11" text-anchor="start" font-weight="normal" >EP-1</text>
<path d="M71.8 699.53 L75.37 703.1 L71.8 706.67 L68.23 703.1 Z" fill="#ff8000" stroke="#3a1e00" stroke-width="0.6" stroke-linejoin="miter"/>
<text x="79.6" y="707.1" font-size="11" text-anchor="start" font-weight="normal" >EP-2</text>
<path d="M69 711.6 L74.6 711.6 L74.6 717.2 L69 717.2 Z" fill="#ffff00" stroke="#222" stroke-width="0.6" stroke-linejoin="miter"/>
<text x="79.6" y="718.4" font-size="11" text-anchor="start" font-weight="normal" >EP-3</text>
<path d="M71.8 722.7 L75.11 728.3 L68.48 728.3 Z" fill="#00b000" stroke="#004000" stroke-width="0.6" stroke-linejoin="miter"/>
<text x="79.6" y="729.5" font-size="11" text-anchor="start" font-weight="normal" >EP-4</text>
<path d="M125.28 689.18 L131.91 689.18 L128.6 694.62 Z" fill="#0000ff" stroke="#000060" stroke-width="0.6" stroke-linejoin="miter"/>
<text x="136.5" y="695.9" font-size="11" text-anchor="start" font-weight="normal" >EP-5</text>
<path d="M128.6 699.62 L125.58 701.36 L125.58 704.84 L128.6 706.59 L131.62 704.84 L131.62 701.36 Z" fill="#008080" stroke="#003030" stroke-width="0.6" stroke-linejoin="miter"/>
<text x="136.5" y="707.1" font-size="11" text-anchor="start" font-weight="normal" >EP-6</text>
<path d="M128.6 711.25 L129.37 713.33 L131.59 713.43 L129.85 714.81 L130.45 716.94 L128.6 715.72 L126.75 716.94 L127.35 714.81 L125.61 713.43 L127.83 713.33 Z" fill="#800080" stroke="#200020" stroke-width="0.6" stroke-linejoin="miter"/>
<text x="136.5" y="718.4" font-size="11" text-anchor="start" font-weight="normal" >EP-7</text>
<path d="M128.6 722.36 A3.15 3.15 0 0 0 128.6 728.64 Z" fill="#111"/><path d="M128.6 722.36 A3.15 3.15 0 0 1 128.6 728.64 Z" fill="#7a7a7a"/><circle cx="128.6" cy="725.5" r="3.15" fill="none" stroke="#111" stroke-width="0.6"/>
<text x="136.5" y="729.5" font-size="11" text-anchor="start" font-weight="normal" >EP-8</text>
<rect x="404" y="539.6" width="273.4" height="197.1" fill="none" stroke="#2a2a2a" stroke-width="1.2"/>
<line x1="404" y1="736.7" x2="404" y2="739.7" stroke="#2a2a2a" stroke-width="1.0" />
<text x="404" y="756.2" font-size="13" text-anchor="middle" font-weight="normal" >16</text>
<line x1="438.18" y1="736.7" x2="438.18" y2="739.7" stroke="#2a2a2a" stroke-width="1.0" />
<text x="438.18" y="756.2" font-size="13" text-anchor="middle" font-weight="normal" >18</text>
<line x1="472.36" y1="736.7" x2="472.36" y2="739.7" stroke="#2a2a2a" stroke-width="1.0" />
<text x="472.36" y="756.2" font-size="13" text-anchor="middle" font-weight="normal" >20</text>
<line x1="506.54" y1="736.7" x2="506.54" y2="739.7" stroke="#2a2a2a" stroke-width="1.0" />
<text x="506.54" y="756.2" font-size="13" text-anchor="middle" font-weight="normal" >22</text>
<line x1="540.72" y1="736.7" x2="540.72" y2="739.7" stroke="#2a2a2a" stroke-width="1.0" />
<text x="540.72" y="756.2" font-size="13" text-anchor="middle" font-weight="normal" >24</text>
<line x1="574.9" y1="736.7" x2="574.9" y2="739.7" stroke="#2a2a2a" stroke-width="1.0" />
<text x="574.9" y="756.2" font-size="13" text-anchor="middle" font-weight="normal" >26</text>
<line x1="609.08" y1="736.7" x2="609.08" y2="739.7" stroke="#2a2a2a" stroke-width="1.0" />
<text x="609.08" y="756.2" font-size="13" text-anchor="middle" font-weight="normal" >28</text>
<line x1="643.26" y1="736.7" x2="643.26" y2="739.7" stroke="#2a2a2a" stroke-width="1.0" />
<text x="643.26" y="756.2" font-size="13" text-anchor="middle" font-weight="normal" >30</text>
<line x1="677.44" y1="736.7" x2="677.44" y2="739.7" stroke="#2a2a2a" stroke-width="1.0" />
<text x="677.44" y="756.2" font-size="13" text-anchor="middle" font-weight="normal" >32</text>
<line x1="401" y1="561.8" x2="404" y2="561.8" stroke="#2a2a2a" stroke-width="1.0" />
<text x="396.3" y="566.1" font-size="13" text-anchor="end" font-weight="normal" >0</text>
<line x1="401" y1="586.76" x2="404" y2="586.76" stroke="#2a2a2a" stroke-width="1.0" />
<text x="396.3" y="591.06" font-size="13" text-anchor="end" font-weight="normal" ><tspan dy="0.9">−</tspan><tspan dy="-0.9">1</tspan></text>
<line x1="401" y1="611.72" x2="404" y2="611.72" stroke="#2a2a2a" stroke-width="1.0" />
<text x="396.3" y="616.02" font-size="13" text-anchor="end" font-weight="normal" ><tspan dy="0.9">−</tspan><tspan dy="-0.9">2</tspan></text>
<line x1="401" y1="636.68" x2="404" y2="636.68" stroke="#2a2a2a" stroke-width="1.0" />
<text x="396.3" y="640.98" font-size="13" text-anchor="end" font-weight="normal" ><tspan dy="0.9">−</tspan><tspan dy="-0.9">3</tspan></text>
<line x1="401" y1="661.64" x2="404" y2="661.64" stroke="#2a2a2a" stroke-width="1.0" />
<text x="396.3" y="665.94" font-size="13" text-anchor="end" font-weight="normal" ><tspan dy="0.9">−</tspan><tspan dy="-0.9">4</tspan></text>
<line x1="401" y1="686.6" x2="404" y2="686.6" stroke="#2a2a2a" stroke-width="1.0" />
<text x="396.3" y="690.9" font-size="13" text-anchor="end" font-weight="normal" ><tspan dy="0.9">−</tspan><tspan dy="-0.9">5</tspan></text>
<line x1="401" y1="711.56" x2="404" y2="711.56" stroke="#2a2a2a" stroke-width="1.0" />
<text x="396.3" y="715.86" font-size="13" text-anchor="end" font-weight="normal" ><tspan dy="0.9">−</tspan><tspan dy="-0.9">6</tspan></text>
<line x1="401" y1="736.52" x2="404" y2="736.52" stroke="#2a2a2a" stroke-width="1.0" />
<text x="396.3" y="740.82" font-size="13" text-anchor="end" font-weight="normal" ><tspan dy="0.9">−</tspan><tspan dy="-0.9">7</tspan></text>
<g transform="translate(516,775.8)"><text x="0" y="0.4" font-size="14" font-family="Liberation Serif" font-style="italic" style="stroke-width:0.1px">δ</text><text x="6.9" y="-5.7" font-size="9.2">18</text><text x="16.2" y="0" font-size="13">O</text><text x="30.7" y="0" font-size="13">(‰)</text></g>
<g transform="translate(368.9,664.7) rotate(-90)"><text x="0" y="0.4" font-size="14" font-family="Liberation Serif" font-style="italic" style="stroke-width:0.1px">δ</text><text x="6.4" y="-5.7" font-size="9.2">30</text><text x="16" y="0" font-size="13">Si</text><text x="32.3" y="0" font-size="13">(‰)</text></g>
<text x="412.8" y="560.1" font-size="13" text-anchor="start" font-weight="normal" word-spacing="0.5">ES + EF</text>
<line x1="419.6" y1="567.4" x2="419.6" y2="574.7" stroke="#555" stroke-width="1.0" /><line x1="416.6" y1="567.4" x2="422.6" y2="567.4" stroke="#555" stroke-width="1.0" /><line x1="416.6" y1="574.7" x2="422.6" y2="574.7" stroke="#555" stroke-width="1.0" />
<line x1="453.6" y1="577.2" x2="453.6" y2="584.5" stroke="#555" stroke-width="1.0" /><line x1="450.6" y1="577.2" x2="456.6" y2="577.2" stroke="#555" stroke-width="1.0" /><line x1="450.6" y1="584.5" x2="456.6" y2="584.5" stroke="#555" stroke-width="1.0" />
<line x1="523.9" y1="571" x2="523.9" y2="575" stroke="#555" stroke-width="1.0" /><line x1="520.9" y1="571" x2="526.9" y2="571" stroke="#555" stroke-width="1.0" /><line x1="520.9" y1="575" x2="526.9" y2="575" stroke="#555" stroke-width="1.0" />
<line x1="477.6" y1="665.3" x2="477.6" y2="681.7" stroke="#555" stroke-width="1.0" /><line x1="474.6" y1="665.3" x2="480.6" y2="665.3" stroke="#555" stroke-width="1.0" /><line x1="474.6" y1="681.7" x2="480.6" y2="681.7" stroke="#555" stroke-width="1.0" />
<line x1="513.6" y1="666.5" x2="513.6" y2="685.3" stroke="#555" stroke-width="1.0" /><line x1="510.6" y1="666.5" x2="516.6" y2="666.5" stroke="#555" stroke-width="1.0" /><line x1="510.6" y1="685.3" x2="516.6" y2="685.3" stroke="#555" stroke-width="1.0" />
<line x1="493.4" y1="646.4" x2="493.4" y2="670.7" stroke="#555" stroke-width="1.0" /><line x1="490.4" y1="646.4" x2="496.4" y2="646.4" stroke="#555" stroke-width="1.0" /><line x1="490.4" y1="670.7" x2="496.4" y2="670.7" stroke="#555" stroke-width="1.0" />
<line x1="425.9" y1="626.6" x2="425.9" y2="634.3" stroke="#555" stroke-width="1.0" /><line x1="422.9" y1="626.6" x2="428.9" y2="626.6" stroke="#555" stroke-width="1.0" /><line x1="422.9" y1="634.3" x2="428.9" y2="634.3" stroke="#555" stroke-width="1.0" />
<line x1="496.3" y1="687.6" x2="496.3" y2="693" stroke="#555" stroke-width="1.0" /><line x1="493.3" y1="687.6" x2="499.3" y2="687.6" stroke="#555" stroke-width="1.0" /><line x1="493.3" y1="693" x2="499.3" y2="693" stroke="#555" stroke-width="1.0" />
<path d="M419.6 567.4 L420.51 569.85 L423.12 569.96 L421.07 571.58 L421.77 574.09 L419.6 572.65 L417.43 574.09 L418.13 571.58 L416.08 569.96 L418.69 569.85 Z" fill="#800080" stroke="#200020" stroke-width="0.6" stroke-linejoin="miter"/>
<path d="M445.3 568.1 L446.21 570.55 L448.82 570.66 L446.77 572.28 L447.47 574.79 L445.3 573.35 L443.13 574.79 L443.83 572.28 L441.78 570.66 L444.39 570.55 Z" fill="#800080" stroke="#200020" stroke-width="0.6" stroke-linejoin="miter"/>
<path d="M453.6 577.6 L454.51 580.05 L457.12 580.16 L455.07 581.78 L455.77 584.29 L453.6 582.85 L451.43 584.29 L452.13 581.78 L450.08 580.16 L452.69 580.05 Z" fill="#800080" stroke="#200020" stroke-width="0.6" stroke-linejoin="miter"/>
<path d="M503.2 583.1 L511 583.1 L507.1 589.5 Z" fill="#0000ff" stroke="#000060" stroke-width="0.6" stroke-linejoin="miter"/>
<path d="M520.1 583.1 L527.9 583.1 L524 589.5 Z" fill="#0000ff" stroke="#000060" stroke-width="0.6" stroke-linejoin="miter"/>
<path d="M593.7 590.8 L601.5 590.8 L597.6 597.2 Z" fill="#0000ff" stroke="#000060" stroke-width="0.6" stroke-linejoin="miter"/>
<path d="M638.1 590.8 L645.9 590.8 L642 597.2 Z" fill="#0000ff" stroke="#000060" stroke-width="0.6" stroke-linejoin="miter"/>
<path d="M523.9 569.8 L527.8 576.4 L520 576.4 Z" fill="#00b000" stroke="#004000" stroke-width="0.6" stroke-linejoin="miter"/>
<path d="M477.6 670.6 L481.5 677.2 L473.7 677.2 Z" fill="#00b000" stroke="#004000" stroke-width="0.6" stroke-linejoin="miter"/>
<path d="M500.1 592.2 L506.7 592.2 L506.7 598.8 L500.1 598.8 Z" fill="#ffff00" stroke="#222" stroke-width="0.6" stroke-linejoin="miter"/>
<path d="M510.3 672.9 L516.9 672.9 L516.9 679.5 L510.3 679.5 Z" fill="#ffff00" stroke="#222" stroke-width="0.6" stroke-linejoin="miter"/>
<path d="M485.5 565.4 L489.7 569.6 L485.5 573.8 L481.3 569.6 Z" fill="#ff8000" stroke="#3a1e00" stroke-width="0.6" stroke-linejoin="miter"/>
<path d="M486.5 615.8 L490.7 620 L486.5 624.2 L482.3 620 Z" fill="#ff8000" stroke="#3a1e00" stroke-width="0.6" stroke-linejoin="miter"/>
<path d="M493.4 654.5 L497.6 658.7 L493.4 662.9 L489.2 658.7 Z" fill="#ff8000" stroke="#3a1e00" stroke-width="0.6" stroke-linejoin="miter"/>
<path d="M466 683.4 L470.2 687.6 L466 691.8 L461.8 687.6 Z" fill="#ff8000" stroke="#3a1e00" stroke-width="0.6" stroke-linejoin="miter"/>
<path d="M493.9 696.3 L498.1 700.5 L493.9 704.7 L489.7 700.5 Z" fill="#ff8000" stroke="#3a1e00" stroke-width="0.6" stroke-linejoin="miter"/>
<circle cx="425.9" cy="629.9" r="3.4" fill="#ff0000" stroke="#7a0000" stroke-width="0.6"/>
<circle cx="511.5" cy="621.3" r="3.4" fill="#ff0000" stroke="#7a0000" stroke-width="0.6"/>
<circle cx="508" cy="629.6" r="3.4" fill="#ff0000" stroke="#7a0000" stroke-width="0.6"/>
<circle cx="513.4" cy="635.6" r="3.4" fill="#ff0000" stroke="#7a0000" stroke-width="0.6"/>
<circle cx="496.3" cy="691.2" r="3.4" fill="#ff0000" stroke="#7a0000" stroke-width="0.6"/>
<circle cx="499.4" cy="705" r="3.4" fill="#ff0000" stroke="#7a0000" stroke-width="0.6"/>
<path d="M624.6 655.37 L625.42 657.57 L627.77 657.67 L625.93 659.13 L626.56 661.39 L624.6 660.1 L622.64 661.39 L623.27 659.13 L621.43 657.67 L623.78 657.57 Z" fill="#800080" stroke="#200020" stroke-width="0.6" stroke-linejoin="miter"/>
<text x="634.9" y="662.7" font-size="11" text-anchor="start" font-weight="normal" >ES-1</text>
<path d="M621.09 667.44 L628.11 667.44 L624.6 673.2 Z" fill="#0000ff" stroke="#000060" stroke-width="0.6" stroke-linejoin="miter"/>
<text x="634.9" y="674.32" font-size="11" text-anchor="start" font-weight="normal" >ES-2</text>
<path d="M624.6 678.97 L628.11 684.91 L621.09 684.91 Z" fill="#00b000" stroke="#004000" stroke-width="0.6" stroke-linejoin="miter"/>
<text x="634.9" y="685.94" font-size="11" text-anchor="start" font-weight="normal" >EF-1</text>
<path d="M621.63 690.59 L627.57 690.59 L627.57 696.53 L621.63 696.53 Z" fill="#ffff00" stroke="#222" stroke-width="0.6" stroke-linejoin="miter"/>
<text x="634.9" y="697.56" font-size="11" text-anchor="start" font-weight="normal" >EF-2</text>
<path d="M624.6 701.4 L628.38 705.18 L624.6 708.96 L620.82 705.18 Z" fill="#ff8000" stroke="#3a1e00" stroke-width="0.6" stroke-linejoin="miter"/>
<text x="634.9" y="709.18" font-size="11" text-anchor="start" font-weight="normal" >EF-3</text>
<circle cx="624.6" cy="716.8" r="3.06" fill="#ff0000" stroke="#7a0000" stroke-width="0.6"/>
<text x="634.9" y="720.8" font-size="11" text-anchor="start" font-weight="normal" >EF-4</text>
</svg></body></html>
